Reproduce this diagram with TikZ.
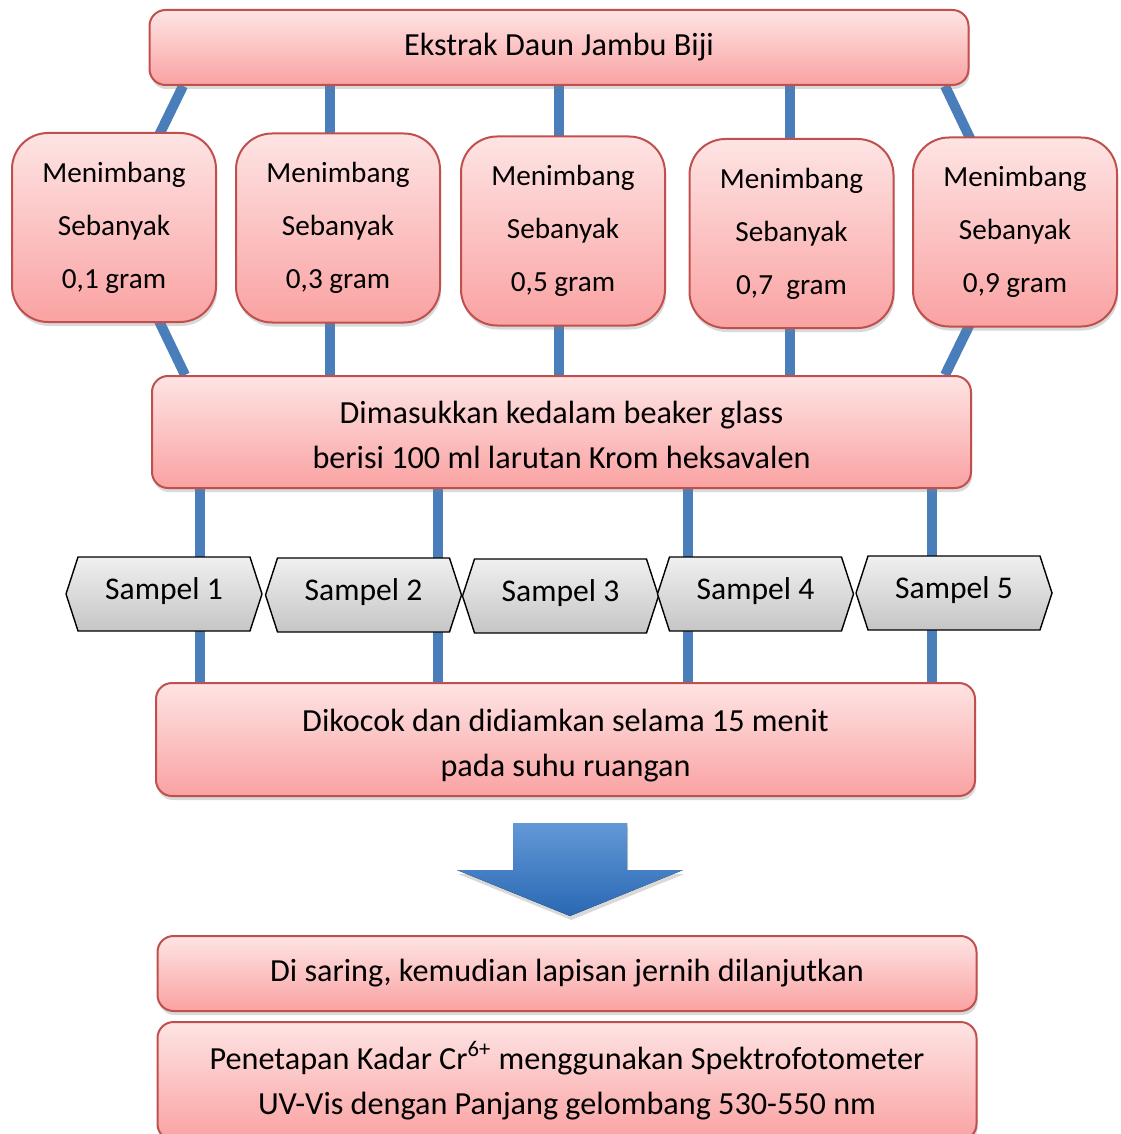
\documentclass[tikz,border=0pt]{standalone}
\usepackage{fontspec}
\setmainfont{Carlito}
\usepackage{xcolor}
\usetikzlibrary{calc,shadows,shapes.symbols}
\definecolor{boxtop}{RGB}{254,228,228}
\definecolor{boxbot}{RGB}{250,162,162}
\definecolor{boxline}{RGB}{192,80,77}
\definecolor{linkblue}{RGB}{74,126,187}
\definecolor{arrowtop}{RGB}{98,152,214}
\definecolor{arrowbot}{RGB}{42,104,180}
\pgfdeclarelayer{back}
\pgfsetlayers{back,main}
\tikzset{
  stepbox/.style={draw=boxline,line width=1pt,top color=boxtop,bottom color=boxbot,
    rounded corners=8pt,align=center,
    drop shadow={opacity=0.3,shadow xshift=0.6pt,shadow yshift=-2pt}},
  weighbox/.style={stepbox,rounded corners=18pt,minimum width=102pt,minimum height=94.5pt,
    font=\fontsize{14.6}{26.5}\selectfont},
  widebox/.style={stepbox,minimum width=409.5pt,font=\fontsize{16.1}{22.8}\selectfont},
  sample/.style={signal,signal to=west and east,signal pointer angle=144,draw=black,
    line width=0.7pt,top color=gray!12,bottom color=gray!45,minimum width=98pt,
    minimum height=37pt,inner xsep=2pt,text depth=5pt,font=\fontsize{15.8}{18}\selectfont},
  link/.style={linkblue,line width=5pt}
}

\begin{document}
\begin{tikzpicture}[x=0.5pt,y=-0.5pt]
    \useasboundingbox (0,0) rectangle (1120,1134);
    % ekstrak
    \node[widebox,minimum height=37.5pt] (ekstrak) at (559,47.5) {Ekstrak Daun Jambu Biji};
    % menimbang
    \node[weighbox] (m1) at (114,227.5) {Menimbang\\Sebanyak\\0,1 gram};
    \node[weighbox] (m2) at (338,228) {Menimbang\\Sebanyak\\0,3 gram};
    \node[weighbox] (m3) at (563,231) {Menimbang\\Sebanyak\\0,5 gram};
    \node[weighbox] (m4) at (791.5,233.5) {Menimbang\\Sebanyak\\0,7~ gram};
    \node[weighbox] (m5) at (1015,232) {Menimbang\\Sebanyak\\0,9 gram};
    % beaker
    \node[widebox,minimum height=56pt,text height=37pt] (dimasuk) at (561.5,432)
      {Dimasukkan kedalam beaker glass\\berisi 100 ml larutan Krom heksavalen};
    % sampel
    \node[sample] (s1) at (164,594) {Sampel 1};
    \node[sample] (s2) at (363.5,595) {Sampel 2};
    \node[sample] (s3) at (560.5,596) {Sampel 3};
    \node[sample] (s4) at (755.5,594) {Sampel 4};
    \node[sample] (s5) at (954,593) {Sampel 5};
    % dikocok
    \node[widebox,minimum height=56.5pt,text height=40pt] (dikocok) at (565.5,739.5)
      {Dikocok dan didiamkan selama 15 menit\\pada suhu ruangan};
    % arrow
    \fill[top color=arrowtop,bottom color=arrowbot,
      drop shadow={opacity=0.3,shadow xshift=0.6pt,shadow yshift=-2pt}]
      (513,823) -- (627,823) -- (627,870) -- (683,870) -- (570,916)
      -- (457,870) -- (513,870) -- cycle;
    % hasil
    \node[widebox,minimum height=37.5pt] (saring) at (567,973.5)
      {Di saring, kemudian lapisan jernih dilanjutkan};
    \node[widebox,minimum height=59pt] (tetap) at (567,1081)
      {Penetapan Kadar Cr\textsuperscript{6+} menggunakan Spektrofotometer\\UV-Vis dengan Panjang gelombang 530-550 nm};
    % connectors
    \begin{pgfonlayer}{back}
      \draw[link] (ekstrak.south -| 183,0) -- (m1.center) -- (dimasuk.north -| 185,0);
      \draw[link] (ekstrak.south -| 945,0) -- (m5.center) -- (dimasuk.north -| 945,0);
      \foreach \x in {330,559,790}
        \draw[link] (ekstrak.south -| \x,0) -- (dimasuk.north -| \x,0);
      \foreach \x in {200,438,688,932}
        \draw[link] (dimasuk.south -| \x,0) -- (dikocok.north -| \x,0);
    \end{pgfonlayer}
  \end{tikzpicture}
\end{document}
